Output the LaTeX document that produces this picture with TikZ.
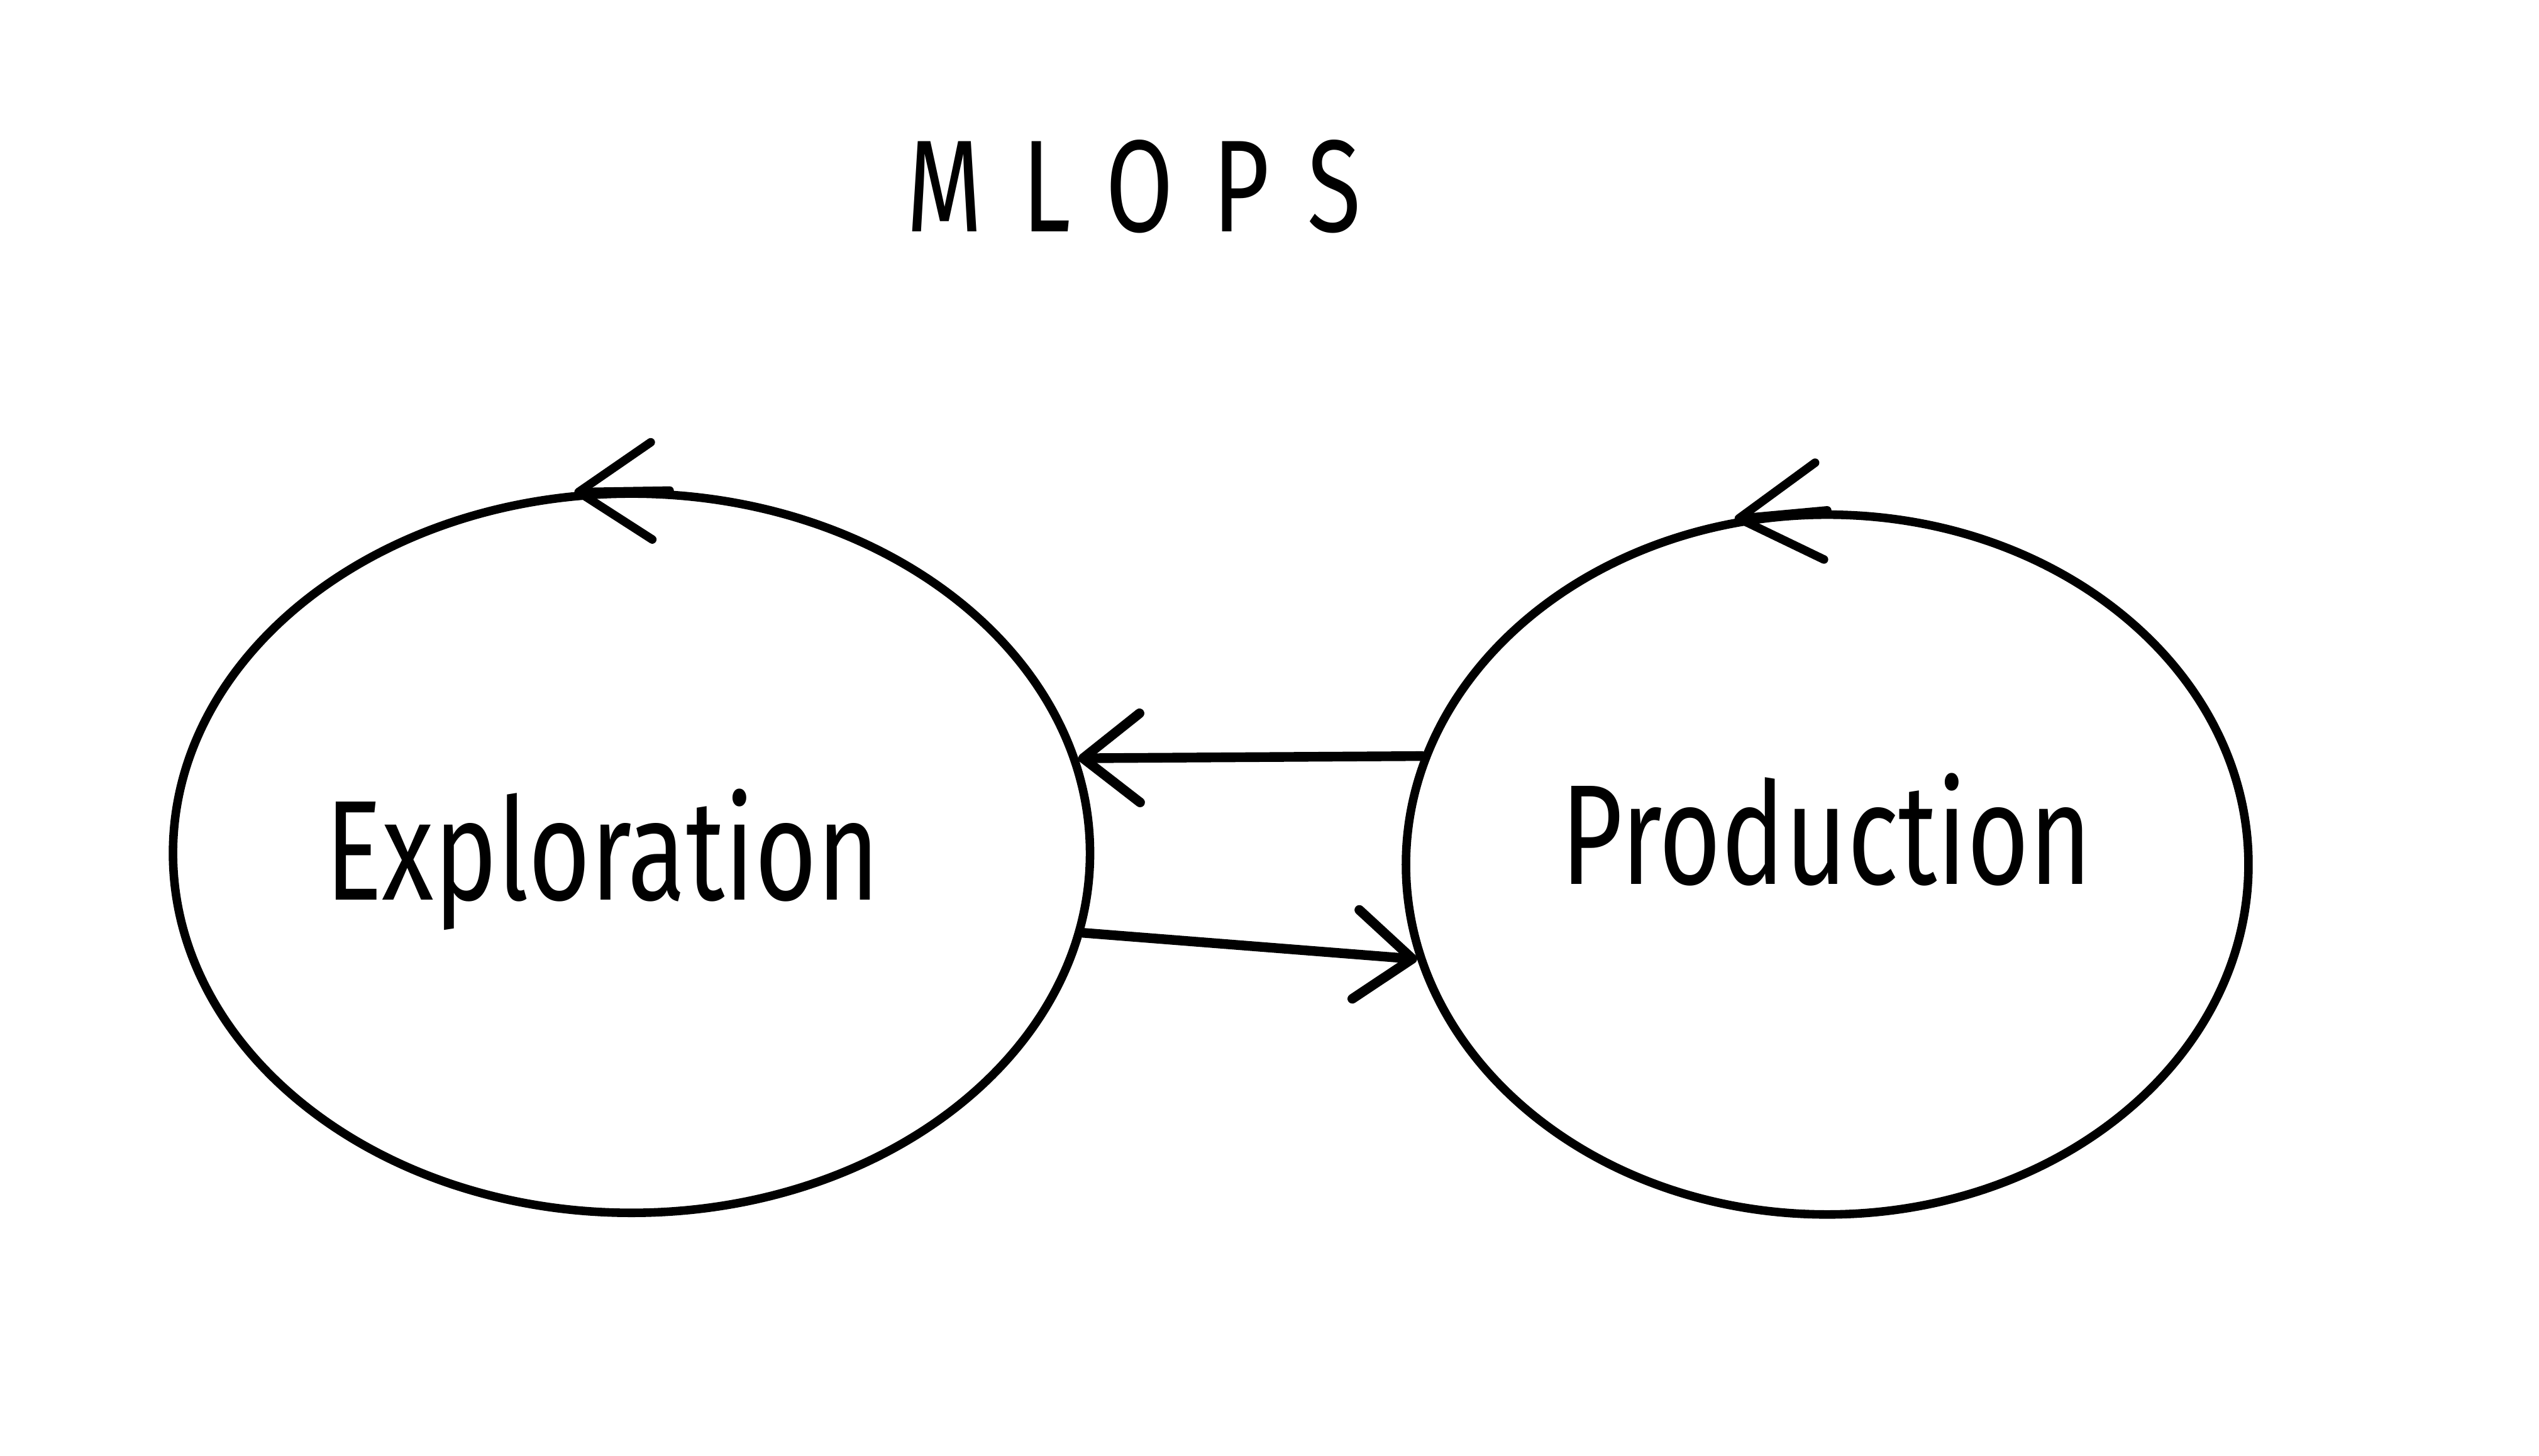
\documentclass[tikz,border=0pt]{standalone}
\usepackage{fontspec}
\newfontfamily\hand[FakeStretch=0.75]{Fira Sans}
\newfontfamily\handwide[FakeStretch=0.75,LetterSpace=30]{Fira Sans}
\usetikzlibrary{arrows.meta,shapes.geometric,positioning}

\begin{document}
\begin{tikzpicture}[x=0.01cm,y=-0.01cm,->,>={Straight Barb[length=3.5mm,width=5.5mm,round]},line width=1.5pt,line cap=round,node distance=7.38cm,
    phase node/.style={ellipse,draw,inner sep=0pt,minimum width=5.66cm,minimum height=4.44cm},
    label node/.style={anchor=base,font=\hand\fontsize{25}{30}\selectfont}]
                \useasboundingbox (0,0) rectangle (1568,899);

                \node[anchor=base,font=\handwide\fontsize{23}{28}\selectfont] (title) at (700,143) {MLOPS};

                \node[phase node] (expl) at (390,527) {};
                \node[phase node,minimum width=5.2cm,minimum height=4.32cm] (prod) [right of=expl,yshift=-0.07cm] {};
                \node[label node] (expltext) at (372,556) {Exploration};
                \node[label node] (prodtext) at (1128,546) {Production};

                \path[line width=1.7pt]
                    (prod.165) edge (expl.12)
                    (expl.-10) edge (prod.193)
                    ;

                \draw[>={Straight Barb[length=4.5mm,width=6mm,round]}] (expl.84) -- (expl.99);
                \draw[>={Straight Barb[length=5mm,width=6mm,round]}] (prod.90) -- (prod.105);
            \end{tikzpicture}
\end{document}
